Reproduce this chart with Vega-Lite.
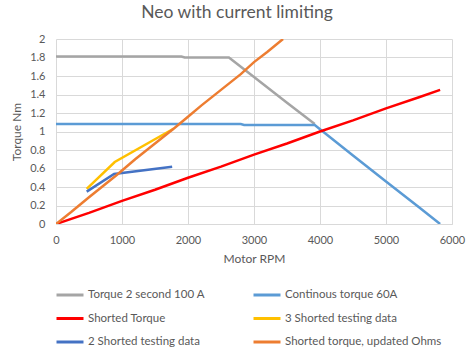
{
  "$schema": "https://vega.github.io/schema/vega-lite/v6.json",
  "width": 396,
  "height": 185,
  "autosize": {"type": "none"},
  "padding": {"left": 56, "top": 39, "right": 22, "bottom": 130},
  "background": "white",
  "title": {
    "text": "Neo with current limiting",
    "font": "Lato",
    "fontSize": 17.5,
    "fontWeight": "normal",
    "color": "#595959",
    "anchor": "middle",
    "offset": 12,
    "dx": -17
  },
  "config": {
    "view": {"stroke": null},
    "font": "Lato"
  },
  "data": {
    "values": [
      {"s": "Torque 2 second 100 A", "rpm": 0, "t": 1.81},
      {"s": "Torque 2 second 100 A", "rpm": 1900, "t": 1.81},
      {"s": "Torque 2 second 100 A", "rpm": 1950, "t": 1.8},
      {"s": "Torque 2 second 100 A", "rpm": 2620, "t": 1.8},
      {"s": "Torque 2 second 100 A", "rpm": 3000, "t": 1.59},
      {"s": "Torque 2 second 100 A", "rpm": 3500, "t": 1.31},
      {"s": "Torque 2 second 100 A", "rpm": 3920, "t": 1.08},
      {"s": "Continous torque 60A", "rpm": 0, "t": 1.08},
      {"s": "Continous torque 60A", "rpm": 2800, "t": 1.08},
      {"s": "Continous torque 60A", "rpm": 2850, "t": 1.07},
      {"s": "Continous torque 60A", "rpm": 3920, "t": 1.07},
      {"s": "Continous torque 60A", "rpm": 4500, "t": 0.74},
      {"s": "Continous torque 60A", "rpm": 5000, "t": 0.46},
      {"s": "Continous torque 60A", "rpm": 5500, "t": 0.18},
      {"s": "Continous torque 60A", "rpm": 5820, "t": 0.0},
      {"s": "Shorted Torque", "rpm": 0, "t": 0.0},
      {"s": "Shorted Torque", "rpm": 500, "t": 0.12},
      {"s": "Shorted Torque", "rpm": 1000, "t": 0.25},
      {"s": "Shorted Torque", "rpm": 1500, "t": 0.37},
      {"s": "Shorted Torque", "rpm": 2000, "t": 0.5},
      {"s": "Shorted Torque", "rpm": 2500, "t": 0.62},
      {"s": "Shorted Torque", "rpm": 3000, "t": 0.75},
      {"s": "Shorted Torque", "rpm": 3500, "t": 0.87},
      {"s": "Shorted Torque", "rpm": 4000, "t": 1.0},
      {"s": "Shorted Torque", "rpm": 4500, "t": 1.12},
      {"s": "Shorted Torque", "rpm": 5000, "t": 1.25},
      {"s": "Shorted Torque", "rpm": 5500, "t": 1.37},
      {"s": "Shorted Torque", "rpm": 5820, "t": 1.45},
      {"s": "3 Shorted testing data", "rpm": 465, "t": 0.38},
      {"s": "3 Shorted testing data", "rpm": 890, "t": 0.67},
      {"s": "3 Shorted testing data", "rpm": 1780, "t": 1.03},
      {"s": "2 Shorted testing data", "rpm": 465, "t": 0.35},
      {"s": "2 Shorted testing data", "rpm": 880, "t": 0.54},
      {"s": "2 Shorted testing data", "rpm": 1760, "t": 0.62},
      {"s": "Shorted torque, updated Ohms", "rpm": 0, "t": 0.0},
      {"s": "Shorted torque, updated Ohms", "rpm": 230, "t": 0.13},
      {"s": "Shorted torque, updated Ohms", "rpm": 500, "t": 0.29},
      {"s": "Shorted torque, updated Ohms", "rpm": 920, "t": 0.53},
      {"s": "Shorted torque, updated Ohms", "rpm": 1200, "t": 0.7},
      {"s": "Shorted torque, updated Ohms", "rpm": 1500, "t": 0.87},
      {"s": "Shorted torque, updated Ohms", "rpm": 1800, "t": 1.04},
      {"s": "Shorted torque, updated Ohms", "rpm": 2000, "t": 1.16},
      {"s": "Shorted torque, updated Ohms", "rpm": 2200, "t": 1.28},
      {"s": "Shorted torque, updated Ohms", "rpm": 2500, "t": 1.45},
      {"s": "Shorted torque, updated Ohms", "rpm": 2800, "t": 1.62},
      {"s": "Shorted torque, updated Ohms", "rpm": 3000, "t": 1.75},
      {"s": "Shorted torque, updated Ohms", "rpm": 3200, "t": 1.86},
      {"s": "Shorted torque, updated Ohms", "rpm": 3440, "t": 2.0}
    ]
  },
  "mark": {"type": "line", "strokeWidth": 2.5, "clip": true, "interpolate": "linear"},
  "encoding": {
    "x": {
      "field": "rpm",
      "type": "quantitative",
      "scale": {"domain": [0, 6000], "nice": false},
      "axis": {
        "title": "Motor RPM",
        "values": [0, 1000, 2000, 3000, 4000, 5000, 6000],
        "format": "d",
        "tickSize": 0,
        "ticks": false,
        "labelPadding": 10,
        "labelFontSize": 11,
        "labelColor": "#595959",
        "labelFont": "Lato",
        "domainColor": "#D9D9D9",
        "gridColor": "#D9D9D9",
        "titleFont": "Lato",
        "titleFontSize": 12,
        "titleFontWeight": "normal",
        "titleColor": "#595959",
        "titlePadding": 8,
        "labelFlush": false
      }
    },
    "y": {
      "field": "t",
      "type": "quantitative",
      "scale": {"domain": [0, 2], "nice": false},
      "axis": {
        "title": "Torque Nm",
        "values": [0, 0.2, 0.4, 0.6, 0.8, 1, 1.2, 1.4, 1.6, 1.8, 2],
        "format": "~g",
        "tickSize": 0,
        "ticks": false,
        "domain": false,
        "labelPadding": 11,
        "labelFontSize": 11,
        "labelColor": "#595959",
        "labelFont": "Lato",
        "gridColor": "#D9D9D9",
        "titleFont": "Lato",
        "titleFontSize": 12,
        "titleFontWeight": "normal",
        "titleColor": "#595959",
        "titlePadding": 6,
        "labelFlush": false
      }
    },
    "color": {
      "field": "s",
      "type": "nominal",
      "scale": {
        "domain": ["Torque 2 second 100 A", "Continous torque 60A", "Shorted Torque", "3 Shorted testing data", "2 Shorted testing data", "Shorted torque, updated Ohms"],
        "range": ["#A5A5A5", "#5B9BD5", "#FF0000", "#FFC000", "#4472C4", "#ED7D31"]
      },
      "legend": {
        "title": null,
        "orient": "none",
        "legendX": -1,
        "legendY": 241,
        "direction": "horizontal",
        "columns": 2,
        "symbolType": "stroke",
        "symbolSize": 729,
        "symbolStrokeWidth": 3,
        "labelOffset": 3,
        "labelFont": "Lato",
        "labelFontSize": 11.5,
        "labelColor": "#595959",
        "columnPadding": 42,
        "rowPadding": 2.5,
        "labelLimit": 300
      }
    }
  }
}
